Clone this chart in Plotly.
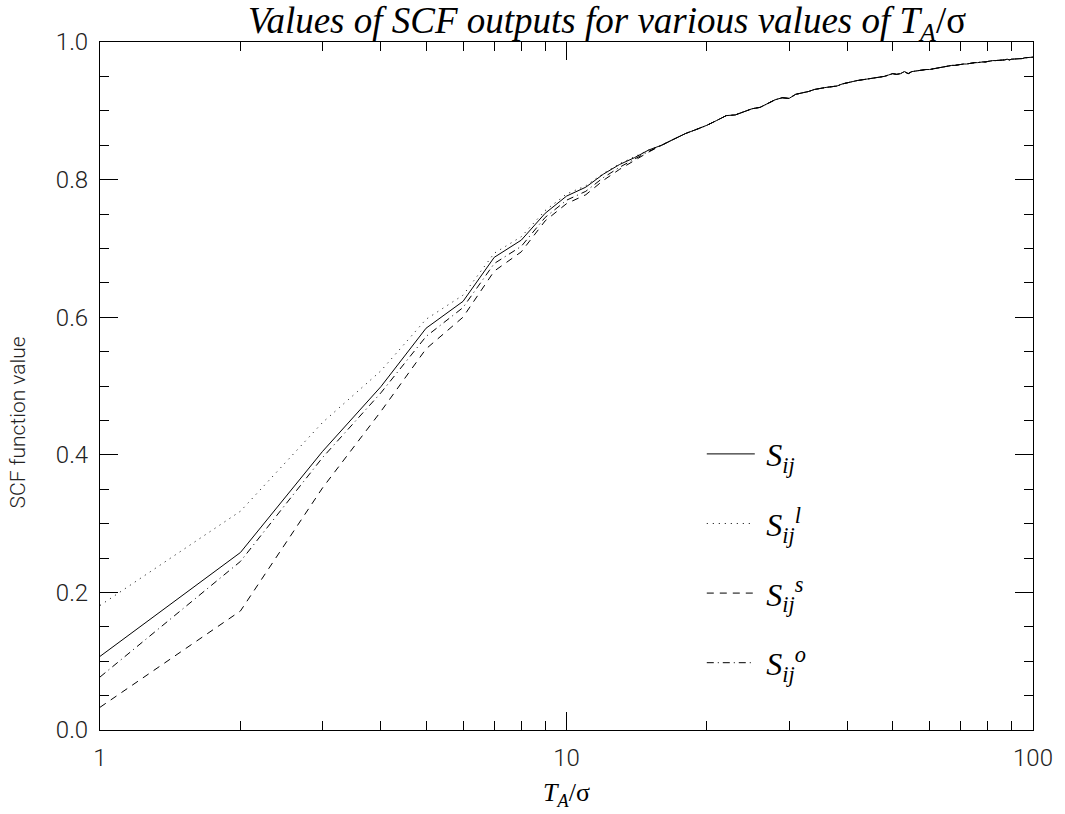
import plotly.graph_objects as go

x_vals = list(range(1, 101))

# Shared tail (n = 16..100) where all four curves coincide
tail = [0.850, 0.859, 0.867, 0.873, 0.879, 0.886, 0.893, 0.894, 0.899, 0.903,
        0.905, 0.910, 0.916, 0.919, 0.918, 0.924, 0.926, 0.928, 0.931, 0.933,
        0.934, 0.935, 0.936, 0.939, 0.941, 0.942, 0.944, 0.945, 0.946, 0.947,
        0.948, 0.949, 0.950, 0.952, 0.954, 0.953, 0.954, 0.957, 0.954, 0.957,
        0.958, 0.958, 0.959, 0.960, 0.960, 0.961, 0.962, 0.963, 0.964, 0.964,
        0.965, 0.966, 0.966, 0.967, 0.968, 0.968, 0.968, 0.969, 0.969, 0.970,
        0.970, 0.971, 0.971, 0.971, 0.972, 0.972, 0.973, 0.973, 0.973, 0.974,
        0.974, 0.974, 0.975, 0.974, 0.975, 0.975, 0.975, 0.976, 0.976, 0.976,
        0.977, 0.977, 0.977, 0.977, 0.978]

# Heads (n = 1..15)
s_head = [0.107, 0.258, 0.405, 0.499, 0.584, 0.623, 0.687, 0.712, 0.751, 0.776,
          0.789, 0.808, 0.822, 0.832, 0.843]
l_head = [0.181, 0.318, 0.447, 0.522, 0.597, 0.632, 0.693, 0.717, 0.755, 0.779,
          0.791, 0.809, 0.823, 0.833, 0.843]
sm_head = [0.033, 0.173, 0.352, 0.463, 0.554, 0.600, 0.667, 0.695, 0.740, 0.765,
           0.778, 0.799, 0.815, 0.828, 0.840]
o_head = [0.077, 0.245, 0.396, 0.490, 0.572, 0.614, 0.678, 0.703, 0.745, 0.770,
          0.783, 0.803, 0.818, 0.830, 0.841]

x_tick_vals = [1, 10, 100]
x_tick_text = ["1", "10", "100"]
y_tick_vals = [0, 0.2, 0.4, 0.6, 0.8, 1.0]
y_tick_text = ["0.0", "0.2", "0.4", "0.6", "0.8", "1.0"]

series = [
    ("&#8201;<i>S</i><sub><i>ij</i></sub>", s_head + tail, "solid"),
    ("&#8201;<i>S</i><sub><i>ij</i></sub><sup><i>l</i></sup>", l_head + tail, "1px,5px"),
    ("&#8201;<i>S</i><sub><i>ij</i></sub><sup><i>s</i></sup>", sm_head + tail, "7px,6px"),
    ("&#8201;<i>S</i><sub><i>ij</i></sub><sup><i>o</i></sup>", o_head + tail, "7px,4px,1px,4px"),
]

fig = go.Figure()
for i, (name, ys, dash) in enumerate(series):
    fig.add_trace(go.Scatter(
        x=x_vals, y=ys, mode="lines", name=name, legendgroup=f"g{i}",
        line=dict(color="black", width=1, dash=dash),
    ))

tick_font = dict(family="Roboto", size=24, color="#222", weight=300)

fig.update_layout(
    width=1065, height=814,
    paper_bgcolor="white", plot_bgcolor="white",
    margin=dict(l=100, r=29, t=42, b=83),
    title=dict(
        text="<i>Values of SCF outputs for various values of T</i><sub><i>A</i></sub>/σ",
        x=607 / 1065, xanchor="center", xref="container",
        y=1 - 20 / 814, yanchor="middle", yref="container",
        font=dict(family="Liberation Serif", size=37, color="black"),
    ),
    showlegend=True,
    legend=dict(
        x=0.645, y=0.441, xanchor="left", yanchor="top",
        bgcolor="rgba(0,0,0,0)", borderwidth=0,
        font=dict(family="Liberation Serif", size=32, color="black"),
        tracegroupgap=25, itemwidth=48, traceorder="grouped",
    ),
    xaxis=dict(
        type="log", range=[0, 2],
        showline=True, linecolor="black", linewidth=1, mirror="allticks",
        ticks="inside", ticklen=18, tickcolor="black", tickwidth=1,
        tickvals=x_tick_vals, ticktext=x_tick_text, ticklabelstandoff=6,
        tickfont=tick_font, showgrid=False, zeroline=False,
        minor=dict(ticks="inside", ticklen=9, tickcolor="black", tickwidth=1,
                   tickvals=[2, 3, 4, 5, 6, 7, 8, 9, 20, 30, 40, 50, 60, 70, 80, 90],
                   showgrid=False),
        title=dict(text="<i>T</i><sub><i>A</i></sub>/σ", standoff=12,
                   font=dict(family="Liberation Serif", size=26, color="black")),
    ),
    yaxis=dict(
        range=[0, 1.0],
        showline=True, linecolor="black", linewidth=1, mirror="allticks",
        ticks="inside", ticklen=18, tickcolor="black", tickwidth=1,
        tickvals=y_tick_vals, ticktext=y_tick_text, ticklabelstandoff=6,
        tickfont=tick_font, showgrid=False, zeroline=False,
        minor=dict(ticks="inside", ticklen=9, tickcolor="black", tickwidth=1,
                   dtick=0.05, showgrid=False),
    ),
    annotations=[dict(
        text="SCF function value", textangle=-90,
        xref="paper", yref="paper", x=0, y=(731 - 423) / 689,
        xanchor="center", yanchor="middle", xshift=-82, showarrow=False,
        font=dict(family="Roboto", size=21, color="#222", weight=300),
    )],
)

fig.write_html("out.html")
